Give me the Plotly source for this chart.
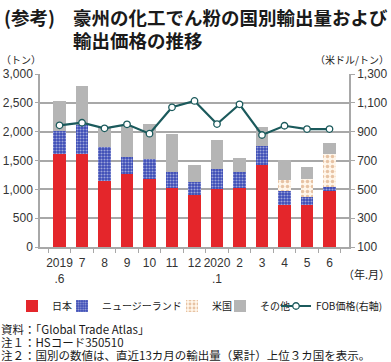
import plotly.graph_objects as go

months = ["2019<br>.6", "7", "8", "9", "10", "11", "12", "2020<br>.1", "2", "3", "4", "5", "6"]
japan = [1610, 1610, 1150, 1260, 1180, 1030, 905, 1000, 1030, 1420, 730, 730, 970]
nz = [400, 505, 580, 295, 350, 265, 215, 350, 265, 340, 240, 140, 75]
us = [None, None, None, None, None, None, None, None, None, None, 185, 310, 570]
other = [530, 675, 350, 545, 600, 665, 295, 500, 250, 320, 350, 215, 190]
fob = [944, 962, 923, 951, 886, 1069, 1113, 953, 1090, 877, 941, 918, 918]

FONT = "Noto Sans CJK JP"
NUMFONT = "Liberation Sans, Noto Sans CJK JP"
GRID = "#a8a8a8"

# plot area in pixels
PL, PR, PT, PB = 40, 349, 74, 247
PW, PH = PR - PL, PB - PT


def px(x):
    return (x - PL) / PW


def py(y):
    return (PB - y) / PH


fig = go.Figure()
fig.add_bar(x=months, y=japan, name="日本", legend="legend",
            marker=dict(color="#e4262b", line=dict(width=0)))
fig.add_bar(x=months, y=nz, name="ニュージーランド", legend="legend2",
            marker=dict(color="#3a4ab5", line=dict(width=0),
                        pattern=dict(shape=".", fgcolor="white", bgcolor="#3a4ab5", size=3, solidity=0.4)))
fig.add_bar(x=months, y=us, name="米国", legend="legend3",
            marker=dict(color="#fff6ea", line=dict(width=0),
                        pattern=dict(shape=".", fgcolor="#d08f5e", bgcolor="#fff6ea", size=5, solidity=0.4)))
fig.add_bar(x=months, y=other, name="その他", legend="legend4",
            marker=dict(color="#b5b5b5", line=dict(width=0)))
fig.add_scatter(x=months, y=fob, name="FOB価格(右軸)", yaxis="y2", mode="lines+markers", legend="legend5",
                line=dict(color="#1b5a5c", width=2.2),
                marker=dict(symbol="circle", size=6.5, color="white", line=dict(color="#1b5a5c", width=1.3)))

LEG_Y = py(306)
leg_x = [12, 62, 172, 220, 276]
leg_common = dict(orientation="h", xanchor="left", yanchor="middle", y=LEG_Y,
                  font=dict(family=FONT, size=10, color="#1a1a1a"), itemwidth=30,
                  bgcolor="rgba(0,0,0,0)")
legends = {}
for i, lx in enumerate(leg_x):
    key = "legend" if i == 0 else f"legend{i + 1}"
    legends[key] = dict(leg_common, x=px(lx))

fig.update_layout(
    barmode="stack", bargap=0.44,
    width=391, height=362,
    margin=dict(l=PL, r=391 - PR, t=PT, b=362 - PB, autoexpand=False),
    paper_bgcolor="white", plot_bgcolor="white",
    font=dict(family=FONT, size=12, color="#333333"),
    showlegend=True,
    xaxis=dict(type="category", tickson="boundaries", ticks="outside", ticklen=4, tickcolor=GRID,
               tickangle=0, automargin=False, ticklabelstandoff=4,
               showline=True, linecolor=GRID, linewidth=1.5, showgrid=False,
               tickfont=dict(family=NUMFONT, size=12, color="#333333")),
    yaxis=dict(range=[0, 3000], dtick=500, tickformat=",", showgrid=True, gridcolor=GRID, gridwidth=1.5,
               showline=True, linecolor=GRID, linewidth=1.5, ticks="outside", ticklen=3, tickcolor=GRID,
               zeroline=False, automargin=False, tickfont=dict(family=NUMFONT, size=12, color="#333333")),
    yaxis2=dict(range=[100, 1300], tick0=100, dtick=200, tickformat=",", overlaying="y", side="right",
                showgrid=False, showline=True, linecolor=GRID, linewidth=1.5, automargin=False,
                ticks="outside", ticklen=4, tickcolor=GRID, zeroline=False,
                tickfont=dict(family=NUMFONT, size=12, color="#333333")),
    **legends,
)

anns = [
    dict(text="<b>(参考)</b>", x=3, y=17, size=18.5),
    dict(text="<b>豪州の化工でん粉の国別輸出量および</b>", x=72, y=17, size=18.5),
    dict(text="<b>輸出価格の推移</b>", x=72, y=40, size=18.5),
    dict(text="（トン）", x=0, y=60, size=10),
    dict(text="資料：「Global Trade Atlas」", x=0, y=329, size=11.5),
    dict(text="注１：HSコード350510", x=0, y=342, size=11.5),
    dict(text="注２：国別の数値は、直近13カ月の輸出量（累計）上位３カ国を表示。", x=0, y=355, size=11.5),
]
for a in anns:
    fig.add_annotation(text=a["text"], xref="paper", yref="paper", x=px(a["x"]), y=py(a["y"]),
                       xanchor="left", yanchor="middle", showarrow=False, borderpad=0,
                       font=dict(family=FONT, size=a["size"], color="#1a1a1a"))
fig.add_annotation(text="（米ドル/トン）", xref="paper", yref="paper", x=px(390), y=py(60),
                   xanchor="right", yanchor="middle", showarrow=False, borderpad=0,
                   font=dict(family=FONT, size=10, color="#1a1a1a"))
fig.add_annotation(text="（年.月）", xref="paper", yref="paper", x=px(391), y=py(274),
                   xanchor="right", yanchor="middle", showarrow=False, borderpad=0,
                   font=dict(family=FONT, size=11, color="#1a1a1a"))

fig.write_html("out.html", config={"displayModeBar": False},
               post_script="document.body.style.margin='0px';")
